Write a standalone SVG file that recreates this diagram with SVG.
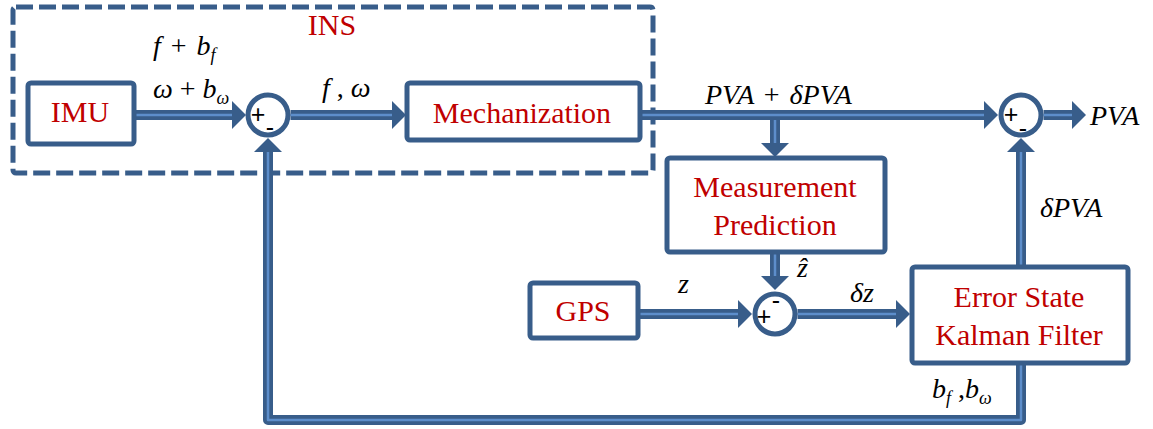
<svg xmlns="http://www.w3.org/2000/svg" xmlns:xlink="http://www.w3.org/1999/xlink" width="1153" height="429" viewBox="0 0 1153 429">
  <style>
    .box { fill: #ffffff; stroke: #385D8A; stroke-width: 5; }
    .sum { fill: #ffffff; stroke: #385D8A; stroke-width: 5; }
    .ins { fill: none; stroke: #385D8A; stroke-width: 5; stroke-dasharray: 17 6; }
    .wire { fill: none; stroke: #385D8A; stroke-width: 10; stroke-linejoin: round; }
    .core { fill: none; stroke: #5D8ECB; stroke-width: 2.5; stroke-linejoin: round; }
    .lbl { font-family: 'Liberation Serif', 'DejaVu Serif', serif; font-size: 30px; fill: #C00000; text-anchor: middle; }
    .math { font-family: 'Liberation Serif', 'DejaVu Serif', serif; font-size: 28px; font-style: italic; fill: #000000; }
    .up { font-style: normal; }
    .sub { font-size: 18px; }
    .sign { font-family: 'Liberation Sans', 'DejaVu Sans', sans-serif; font-size: 25px; fill: #000000; text-anchor: middle; }
  </style>
  <defs>
    <marker id="ah" markerUnits="userSpaceOnUse" viewBox="0 0 14 28" markerWidth="14" markerHeight="28" refX="0" refY="14" orient="auto" overflow="visible">
      <path d="M0 0 L14 14 L0 28 Z" fill="#385D8A"/>
    </marker>
    <!-- connector routes, each drawn as a dark band with a light centre stripe -->
    <path id="p-imu-s1" d="M136 115 H232"/>
    <path id="p-s1-mech" d="M290.5 115 H392"/>
    <path id="p-mech-s2" d="M640 115 H984"/>
    <path id="p-s2-out" d="M1043.5 115 H1072"/>
    <path id="p-mech-mp" d="M775 120 V143"/>
    <path id="p-mp-s3" d="M775 252 V276"/>
    <path id="p-gps-s3" d="M638 314 H738"/>
    <path id="p-s3-kf" d="M797.5 314 H896"/>
    <path id="p-kf-s2" d="M1021 265 V152"/>
    <path id="p-kf-s1" d="M1021 365 V420 H268 V152"/>
  </defs>

  <!-- INS boundary -->
  <g id="ins">
    <rect class="ins" x="13" y="7" width="640" height="166" rx="3"/>
    <text class="lbl" x="332" y="35">INS</text>
  </g>

  <!-- connectors -->
  <g id="connectors">
    <use xlink:href="#p-imu-s1" class="wire" marker-end="url(#ah)"/>
    <use xlink:href="#p-s1-mech" class="wire" marker-end="url(#ah)"/>
    <use xlink:href="#p-mech-s2" class="wire" marker-end="url(#ah)"/>
    <use xlink:href="#p-s2-out" class="wire" marker-end="url(#ah)"/>
    <use xlink:href="#p-mech-mp" class="wire" marker-end="url(#ah)"/>
    <use xlink:href="#p-mp-s3" class="wire" marker-end="url(#ah)"/>
    <use xlink:href="#p-gps-s3" class="wire" marker-end="url(#ah)"/>
    <use xlink:href="#p-s3-kf" class="wire" marker-end="url(#ah)"/>
    <use xlink:href="#p-kf-s2" class="wire" marker-end="url(#ah)"/>
    <use xlink:href="#p-kf-s1" class="wire" marker-end="url(#ah)"/>
    <use xlink:href="#p-imu-s1" class="core"/>
    <use xlink:href="#p-s1-mech" class="core"/>
    <use xlink:href="#p-mech-s2" class="core"/>
    <use xlink:href="#p-s2-out" class="core"/>
    <use xlink:href="#p-mech-mp" class="core"/>
    <use xlink:href="#p-mp-s3" class="core"/>
    <use xlink:href="#p-gps-s3" class="core"/>
    <use xlink:href="#p-s3-kf" class="core"/>
    <use xlink:href="#p-kf-s2" class="core"/>
    <use xlink:href="#p-kf-s1" class="core"/>

    <!-- signal labels -->
    <text class="math" x="153" y="55">f <tspan class="up" dx="3">+</tspan><tspan dx="3"> b</tspan><tspan class="sub" dy="6">f</tspan></text>
    <text class="math" x="153" y="98">ω <tspan class="up">+</tspan> b<tspan class="sub" dy="6">ω</tspan></text>
    <text class="math" x="322" y="97">f <tspan class="up">,</tspan> ω</text>
    <text class="math" x="705" y="104">PVA <tspan class="up" dx="3">+</tspan><tspan dx="3"> δPVA</tspan></text>
    <text class="math" x="1090" y="125">PVA</text>
    <text class="math" x="1040" y="217">δPVA</text>
    <text class="math" x="678" y="293">z</text>
    <text class="math" x="797" y="277">ẑ</text>
    <text class="math" x="850" y="302">δz</text>
    <text class="math" x="932" y="398">b<tspan class="sub" dy="6">f</tspan><tspan class="up" dy="-6"> ,</tspan>b<tspan class="sub" dy="6">ω</tspan></text>
  </g>

  <!-- blocks -->
  <g id="imu">
    <rect class="box" x="28" y="83" width="106" height="61" rx="3"/>
    <text class="lbl" x="80" y="122">IMU</text>
  </g>
  <g id="mechanization">
    <rect class="box" x="407" y="83" width="233" height="57" rx="3"/>
    <text class="lbl" x="522" y="123">Mechanization</text>
  </g>
  <g id="measurement-prediction">
    <rect class="box" x="667" y="158" width="218" height="94" rx="3"/>
    <text class="lbl" x="775" y="197">Measurement</text>
    <text class="lbl" x="775" y="235">Prediction</text>
  </g>
  <g id="gps">
    <rect class="box" x="530" y="283" width="108" height="55" rx="3"/>
    <text class="lbl" x="583" y="321">GPS</text>
  </g>
  <g id="kalman-filter">
    <rect class="box" x="912" y="267" width="216" height="96" rx="3"/>
    <text class="lbl" x="1019" y="307">Error State</text>
    <text class="lbl" x="1019" y="345">Kalman Filter</text>
  </g>

  <!-- summing junctions -->
  <g id="sum-ins">
    <circle class="sum" cx="268" cy="115" r="20"/>
    <text class="sign" x="258" y="123">+</text>
    <text class="sign" x="270" y="136">-</text>
  </g>
  <g id="sum-out">
    <circle class="sum" cx="1021" cy="115" r="20"/>
    <text class="sign" x="1011" y="123">+</text>
    <text class="sign" x="1023" y="137">-</text>
  </g>
  <g id="sum-meas">
    <circle class="sum" cx="775" cy="314" r="20"/>
    <text class="sign" x="764" y="325">+</text>
    <text class="sign" x="776" y="309">-</text>
  </g>
</svg>
